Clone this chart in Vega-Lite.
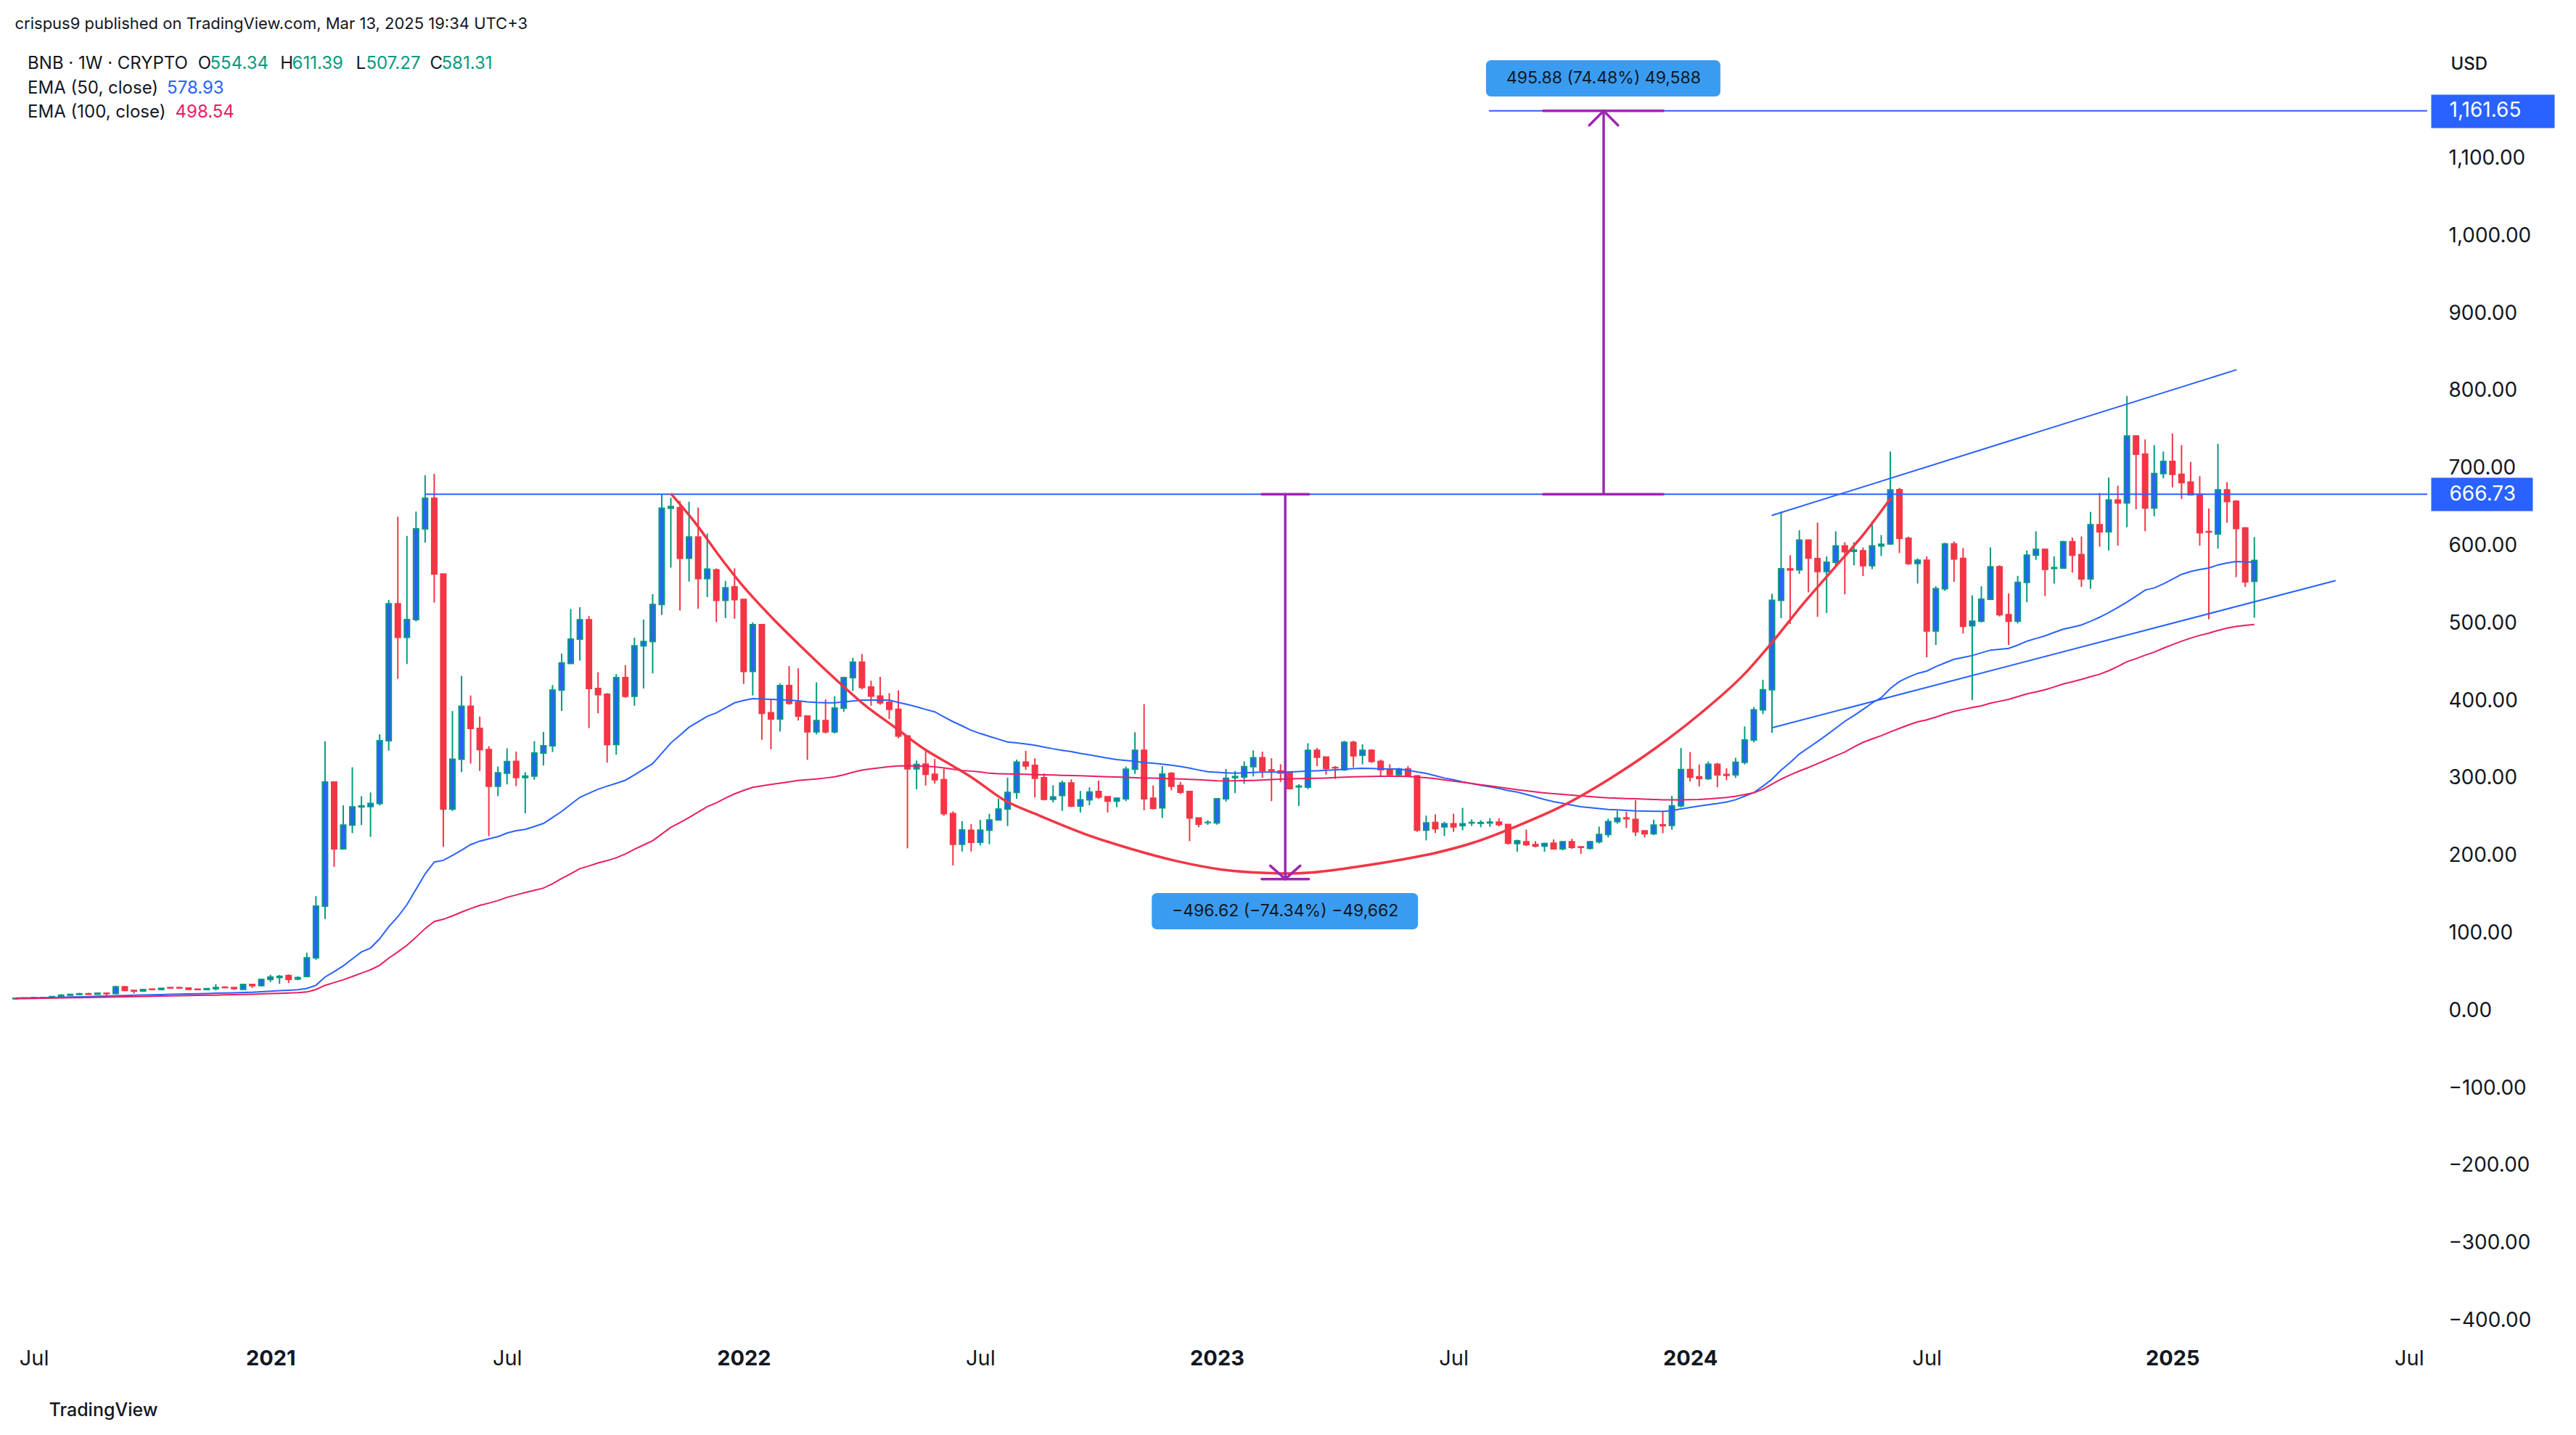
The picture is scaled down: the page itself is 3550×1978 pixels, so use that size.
{
"$schema": "https://vega.github.io/schema/vega-lite/v6.json",
"width": 3331, "height": 1798,
"autosize": {"type": "none"},
"padding": {"left": 19, "top": 52, "right": 200, "bottom": 128},
"background": "#ffffff",
"config": {"font": "Inter", "view": {"stroke": null}, "axis": {"grid": false}},
"datasets": {
"k": [
{"d":"2020-06-22","o":15.5,"h":16.6,"l":15.1,"c":16.2,"e50":16.5,"e100":15.7},
{"d":"2020-06-29","o":16.2,"h":17,"l":15.6,"c":16.4,"e50":16.6,"e100":15.8},
{"d":"2020-07-06","o":16.4,"h":17.4,"l":16,"c":17.1,"e50":16.8,"e100":16},
{"d":"2020-07-13","o":17.1,"h":17.9,"l":16.3,"c":16.8,"e50":17,"e100":16.2},
{"d":"2020-07-20","o":16.8,"h":19,"l":16.6,"c":18.4,"e50":17.2,"e100":16.4},
{"d":"2020-07-27","o":18.4,"h":21.4,"l":18,"c":20.2,"e50":17.5,"e100":16.6},
{"d":"2020-08-03","o":20.2,"h":22.2,"l":19.5,"c":21.1,"e50":17.8,"e100":16.8},
{"d":"2020-08-10","o":21.1,"h":23.1,"l":20.5,"c":22,"e50":18.1,"e100":17},
{"d":"2020-08-17","o":22,"h":23.3,"l":20.9,"c":21.4,"e50":18.4,"e100":17.2},
{"d":"2020-08-24","o":21.4,"h":23.6,"l":21,"c":22.7,"e50":18.7,"e100":17.4},
{"d":"2020-08-31","o":22.7,"h":23.6,"l":19,"c":22.2,"e50":19,"e100":17.6},
{"d":"2020-09-07","o":22.4,"h":32.5,"l":21.5,"c":31,"e50":19.4,"e100":17.8},
{"d":"2020-09-14","o":31,"h":32,"l":25.5,"c":26.3,"e50":19.8,"e100":18.1},
{"d":"2020-09-21","o":26.3,"h":26.8,"l":22.4,"c":25.5,"e50":20.1,"e100":18.3},
{"d":"2020-09-28","o":25.5,"h":28,"l":25,"c":27.5,"e50":20.4,"e100":18.5},
{"d":"2020-10-05","o":28,"h":28.5,"l":26.5,"c":27.5,"e50":20.7,"e100":18.8},
{"d":"2020-10-12","o":27.5,"h":29.5,"l":27,"c":29,"e50":21,"e100":19},
{"d":"2020-10-19","o":30,"h":30.5,"l":28.8,"c":29.5,"e50":21.3,"e100":19.2},
{"d":"2020-10-26","o":30,"h":30.8,"l":28.8,"c":29.5,"e50":21.6,"e100":19.5},
{"d":"2020-11-02","o":29.3,"h":29.5,"l":26.5,"c":27.7,"e50":21.9,"e100":19.7},
{"d":"2020-11-09","o":28,"h":28.6,"l":26.8,"c":27.5,"e50":22.1,"e100":19.9},
{"d":"2020-11-16","o":27.5,"h":29,"l":27,"c":28.6,"e50":22.4,"e100":20.1},
{"d":"2020-11-23","o":28.6,"h":34.4,"l":26.3,"c":30,"e50":22.7,"e100":20.3},
{"d":"2020-11-30","o":30.5,"h":31.5,"l":29.2,"c":30,"e50":23,"e100":20.6},
{"d":"2020-12-07","o":30,"h":30.3,"l":27,"c":28.8,"e50":23.2,"e100":20.8},
{"d":"2020-12-14","o":27.7,"h":35,"l":27.2,"c":34,"e50":23.6,"e100":21.1},
{"d":"2020-12-21","o":34,"h":34.8,"l":29.6,"c":32.5,"e50":24,"e100":21.4},
{"d":"2020-12-28","o":32.5,"h":41.5,"l":31.5,"c":40.6,"e50":24.6,"e100":21.8},
{"d":"2021-01-04","o":40.6,"h":46.5,"l":37,"c":43.5,"e50":25.3,"e100":22.2},
{"d":"2021-01-11","o":43,"h":46.3,"l":34.8,"c":44.5,"e50":26,"e100":22.6},
{"d":"2021-01-18","o":45.5,"h":47,"l":36,"c":40.6,"e50":26.6,"e100":23},
{"d":"2021-01-25","o":41,"h":44.5,"l":39.5,"c":43,"e50":27.2,"e100":23.4},
{"d":"2021-02-01","o":44.4,"h":75,"l":43.5,"c":68.3,"e50":28.8,"e100":24.3},
{"d":"2021-02-08","o":68.3,"h":148,"l":66,"c":135.2,"e50":33,"e100":27.5},
{"d":"2021-02-15","o":135.2,"h":347.7,"l":118.4,"c":295.2,"e50":43.6,"e100":32.9},
{"d":"2021-02-22","o":295.2,"h":296,"l":185.8,"c":209.2,"e50":50.5,"e100":36.5},
{"d":"2021-03-01","o":209.2,"h":265.1,"l":208,"c":239.8,"e50":58,"e100":40},
{"d":"2021-03-08","o":239.8,"h":314.3,"l":229.3,"c":263.2,"e50":67,"e100":44.3},
{"d":"2021-03-15","o":263.2,"h":277,"l":239.8,"c":264.5,"e50":76,"e100":48.6},
{"d":"2021-03-22","o":263.7,"h":281.8,"l":224.5,"c":267.5,"e50":81,"e100":53},
{"d":"2021-03-29","o":267.5,"h":356.8,"l":265.1,"c":348.7,"e50":93,"e100":58.7},
{"d":"2021-04-05","o":348.7,"h":530.2,"l":335.8,"c":525.4,"e50":108.5,"e100":68},
{"d":"2021-04-12","o":525.4,"h":637.7,"l":428.5,"c":482,"e50":121.5,"e100":76},
{"d":"2021-04-19","o":482,"h":612.9,"l":447.6,"c":504.9,"e50":137,"e100":84.5},
{"d":"2021-04-26","o":504.9,"h":644.4,"l":502.5,"c":621.9,"e50":157,"e100":95},
{"d":"2021-05-03","o":621.9,"h":691.2,"l":604.3,"c":661.6,"e50":176.7,"e100":106.2},
{"d":"2021-05-10","o":661.6,"h":693.1,"l":526.9,"c":563.7,"e50":192,"e100":115.2},
{"d":"2021-05-17","o":563.7,"h":563.7,"l":211.6,"c":260.3,"e50":194.2,"e100":118.2},
{"d":"2021-05-24","o":260.3,"h":386.9,"l":258,"c":324.8,"e50":200.6,"e100":122.5},
{"d":"2021-05-31","o":324.8,"h":432.3,"l":308.1,"c":393.1,"e50":207.3,"e100":127.4},
{"d":"2021-06-07","o":393.1,"h":407,"l":319.1,"c":364.5,"e50":214.5,"e100":132},
{"d":"2021-06-14","o":364.5,"h":379.8,"l":309.5,"c":337.2,"e50":219,"e100":136},
{"d":"2021-06-21","o":337.2,"h":341.5,"l":225.5,"c":289.9,"e50":222,"e100":139},
{"d":"2021-06-28","o":289.9,"h":315.3,"l":277,"c":307.1,"e50":224.8,"e100":142.3},
{"d":"2021-07-05","o":306.7,"h":338.8,"l":292.2,"c":321.6,"e50":229.5,"e100":146.5},
{"d":"2021-07-12","o":322,"h":334.6,"l":290,"c":301,"e50":232.5,"e100":149.5},
{"d":"2021-07-19","o":301,"h":308,"l":255,"c":303,"e50":234.1,"e100":152.7},
{"d":"2021-07-26","o":303,"h":348,"l":298.3,"c":332.6,"e50":237.9,"e100":155.5},
{"d":"2021-08-02","o":332.6,"h":360,"l":316.6,"c":342,"e50":241.8,"e100":158.4},
{"d":"2021-08-09","o":342,"h":420.5,"l":334,"c":414,"e50":249.5,"e100":164},
{"d":"2021-08-16","o":414,"h":461,"l":387,"c":449,"e50":257.3,"e100":170.8},
{"d":"2021-08-23","o":448.3,"h":518.6,"l":448,"c":479.6,"e50":266.5,"e100":177},
{"d":"2021-08-30","o":479.6,"h":521,"l":452,"c":504.8,"e50":275.5,"e100":183.5},
{"d":"2021-09-06","o":504.8,"h":509.4,"l":365,"c":416,"e50":280.8,"e100":187},
{"d":"2021-09-13","o":416,"h":437,"l":384,"c":408,"e50":286,"e100":190.9},
{"d":"2021-09-20","o":408.6,"h":410,"l":320.4,"c":343.7,"e50":290,"e100":193.8},
{"d":"2021-09-27","o":343.7,"h":434.6,"l":330.7,"c":430,"e50":293.6,"e100":197.5},
{"d":"2021-10-04","o":430,"h":446,"l":404,"c":406,"e50":297.6,"e100":202.4},
{"d":"2021-10-11","o":406,"h":481.5,"l":393.7,"c":471,"e50":304.5,"e100":208.5},
{"d":"2021-10-18","o":471,"h":505,"l":416,"c":476.6,"e50":311.7,"e100":214},
{"d":"2021-10-25","o":476.6,"h":537.7,"l":435.7,"c":524.3,"e50":319,"e100":219.6},
{"d":"2021-11-01","o":524.3,"h":667.5,"l":511,"c":648.8,"e50":332.3,"e100":228.2},
{"d":"2021-11-08","o":648.8,"h":662,"l":572,"c":650.7,"e50":345.7,"e100":236.8},
{"d":"2021-11-15","o":649.5,"h":658,"l":516.7,"c":584,"e50":355.7,"e100":243},
{"d":"2021-11-22","o":584,"h":657,"l":554,"c":611.4,"e50":366,"e100":249.5},
{"d":"2021-11-29","o":611.4,"h":649.5,"l":519,"c":557.9,"e50":373,"e100":256.5},
{"d":"2021-12-06","o":557.9,"h":616,"l":534,"c":570,"e50":380.1,"e100":263.6},
{"d":"2021-12-13","o":569,"h":571,"l":501.8,"c":529.7,"e50":384.5,"e100":268.5},
{"d":"2021-12-20","o":529.7,"h":554.9,"l":507,"c":546,"e50":391,"e100":274.5},
{"d":"2021-12-27","o":547,"h":571,"l":506,"c":530.8,"e50":397.5,"e100":280},
{"d":"2022-01-03","o":531,"h":531,"l":422,"c":438,"e50":400.6,"e100":284.5},
{"d":"2022-01-10","o":438,"h":501.4,"l":407,"c":498.4,"e50":403,"e100":288.4},
{"d":"2022-01-17","o":498.4,"h":498.4,"l":349.8,"c":384,"e50":402.5,"e100":290.3},
{"d":"2022-01-24","o":384.6,"h":401.4,"l":337.6,"c":376.6,"e50":402,"e100":292.2},
{"d":"2022-01-31","o":376.6,"h":422.4,"l":360.5,"c":419.7,"e50":401.5,"e100":293.8},
{"d":"2022-02-07","o":419.7,"h":445,"l":395,"c":396.8,"e50":401.1,"e100":295.5},
{"d":"2022-02-14","o":398.3,"h":442,"l":374.7,"c":380.4,"e50":400,"e100":297.3},
{"d":"2022-02-21","o":380.4,"h":380.4,"l":323.9,"c":360,"e50":398.8,"e100":298.3},
{"d":"2022-02-28","o":360,"h":424,"l":356.7,"c":374.7,"e50":398,"e100":299.2},
{"d":"2022-03-07","o":374.7,"h":402,"l":358,"c":360,"e50":397.5,"e100":300.5},
{"d":"2022-03-14","o":360,"h":406,"l":358,"c":390.7,"e50":397.6,"e100":302},
{"d":"2022-03-21","o":390.7,"h":431,"l":386,"c":430,"e50":398.7,"e100":304.6},
{"d":"2022-03-28","o":430,"h":455.6,"l":412.8,"c":449.9,"e50":399.9,"e100":307.8},
{"d":"2022-04-04","o":449.9,"h":460.5,"l":415,"c":417.4,"e50":401,"e100":310.6},
{"d":"2022-04-11","o":417.8,"h":426,"l":393.7,"c":406.3,"e50":401.1,"e100":312.3},
{"d":"2022-04-18","o":406.3,"h":431,"l":395,"c":397.6,"e50":401.1,"e100":313.8},
{"d":"2022-04-25","o":398.3,"h":410,"l":376.6,"c":389.2,"e50":401.1,"e100":315.1},
{"d":"2022-05-02","o":389,"h":413.6,"l":351.8,"c":354.8,"e50":398,"e100":316.1},
{"d":"2022-05-09","o":354.8,"h":354.8,"l":209.7,"c":312.4,"e50":395.5,"e100":316.4},
{"d":"2022-05-16","o":312.4,"h":323,"l":286,"c":318,"e50":392.3,"e100":316.1},
{"d":"2022-05-23","o":318.5,"h":336.5,"l":290.7,"c":305.2,"e50":389,"e100":315.7},
{"d":"2022-05-30","o":305.2,"h":325,"l":293.3,"c":298.3,"e50":385.9,"e100":314.9},
{"d":"2022-06-06","o":298.3,"h":312.4,"l":251.7,"c":254.4,"e50":379.5,"e100":313.5},
{"d":"2022-06-13","o":254.4,"h":257.4,"l":187.6,"c":215,"e50":373.2,"e100":311.8},
{"d":"2022-06-20","o":215,"h":244.8,"l":205.5,"c":233.4,"e50":367.8,"e100":310.2},
{"d":"2022-06-27","o":233,"h":241,"l":205.5,"c":217.5,"e50":362,"e100":309.4},
{"d":"2022-07-04","o":217.5,"h":246.6,"l":213.5,"c":233.2,"e50":357.9,"e100":308.3},
{"d":"2022-07-11","o":233.2,"h":254.4,"l":215,"c":246.3,"e50":354.2,"e100":306.6},
{"d":"2022-07-18","o":246.3,"h":273.7,"l":246,"c":260.3,"e50":350.6,"e100":306.1},
{"d":"2022-07-25","o":260.3,"h":300.8,"l":238.5,"c":281.8,"e50":347,"e100":305.8},
{"d":"2022-08-01","o":281.8,"h":324.2,"l":273.7,"c":321,"e50":345.7,"e100":305.5},
{"d":"2022-08-08","o":321,"h":335.4,"l":311.1,"c":316,"e50":344.4,"e100":305.2},
{"d":"2022-08-15","o":316.7,"h":326,"l":275.3,"c":300.2,"e50":342.8,"e100":304.9},
{"d":"2022-08-22","o":300.8,"h":306.4,"l":271.5,"c":273.1,"e50":340.5,"e100":304.6},
{"d":"2022-08-29","o":273,"h":291,"l":269,"c":276,"e50":338.2,"e100":304.4},
{"d":"2022-09-05","o":277.8,"h":297.1,"l":258.1,"c":294,"e50":336.3,"e100":304},
{"d":"2022-09-12","o":294,"h":298.7,"l":262.8,"c":264.3,"e50":334.5,"e100":303.7},
{"d":"2022-09-19","o":264.3,"h":283.7,"l":256,"c":272.2,"e50":332.3,"e100":303.4},
{"d":"2022-09-26","o":272.2,"h":288.4,"l":265.3,"c":282.4,"e50":330.3,"e100":303},
{"d":"2022-10-03","o":283,"h":297.1,"l":273.7,"c":275.9,"e50":328.3,"e100":302.5},
{"d":"2022-10-10","o":276.2,"h":277,"l":256,"c":270.6,"e50":326.1,"e100":302.1},
{"d":"2022-10-17","o":270.6,"h":275.3,"l":262.8,"c":274.3,"e50":324.3,"e100":301.7},
{"d":"2022-10-24","o":273.7,"h":315.2,"l":270.6,"c":311.8,"e50":323.2,"e100":301.3},
{"d":"2022-10-31","o":311.8,"h":359.5,"l":305.8,"c":336.1,"e50":322.1,"e100":300.9},
{"d":"2022-11-07","o":336.1,"h":395.9,"l":258.8,"c":273.7,"e50":320.2,"e100":300.5},
{"d":"2022-11-14","o":274.3,"h":290.9,"l":260,"c":261.2,"e50":319.5,"e100":300.3},
{"d":"2022-11-21","o":262,"h":315.8,"l":248.8,"c":305.5,"e50":318.3,"e100":300},
{"d":"2022-11-28","o":306.5,"h":308,"l":284.6,"c":289.9,"e50":317,"e100":299.7},
{"d":"2022-12-05","o":290.9,"h":295.5,"l":280,"c":282.1,"e50":315.3,"e100":299.3},
{"d":"2022-12-12","o":283,"h":284,"l":219.1,"c":248.8,"e50":313.3,"e100":298.8},
{"d":"2022-12-19","o":248.8,"h":249,"l":236.9,"c":241,"e50":310.8,"e100":298.2},
{"d":"2022-12-26","o":243,"h":246,"l":240,"c":243.2,"e50":308.5,"e100":297.6},
{"d":"2023-01-02","o":242.5,"h":274.3,"l":240.3,"c":273.7,"e50":307.8,"e100":296.9},
{"d":"2023-01-09","o":273.7,"h":312,"l":270,"c":300.2,"e50":307.2,"e100":296.6},
{"d":"2023-01-16","o":301,"h":309.6,"l":281,"c":302.4,"e50":306.8,"e100":296.8},
{"d":"2023-01-23","o":301.7,"h":322,"l":293,"c":315.2,"e50":307.2,"e100":297},
{"d":"2023-01-30","o":315.2,"h":336.1,"l":302.4,"c":326.7,"e50":307.7,"e100":297.4},
{"d":"2023-02-06","o":326.7,"h":334.5,"l":300.8,"c":310,"e50":308,"e100":297.9},
{"d":"2023-02-13","o":311,"h":326,"l":270.6,"c":310,"e50":308,"e100":298.4},
{"d":"2023-02-20","o":309.6,"h":318.3,"l":295.5,"c":307,"e50":308,"e100":298.9},
{"d":"2023-02-27","o":308,"h":308.5,"l":285.6,"c":286.8,"e50":308.4,"e100":299.4},
{"d":"2023-03-06","o":289,"h":292.4,"l":264.4,"c":290,"e50":308.9,"e100":299.7},
{"d":"2023-03-13","o":288.7,"h":345.4,"l":286.2,"c":336.1,"e50":309.4,"e100":300},
{"d":"2023-03-20","o":336.1,"h":339.2,"l":315.8,"c":327.3,"e50":309.8,"e100":300.2},
{"d":"2023-03-27","o":327.6,"h":328,"l":304.9,"c":312.7,"e50":310.4,"e100":300.5},
{"d":"2023-04-03","o":314,"h":315.8,"l":299.3,"c":313.6,"e50":311,"e100":301},
{"d":"2023-04-10","o":311.1,"h":348.5,"l":309.6,"c":346.4,"e50":311.8,"e100":301.5},
{"d":"2023-04-17","o":346.4,"h":348.5,"l":314.2,"c":329.2,"e50":312.5,"e100":302},
{"d":"2023-04-24","o":329.8,"h":343.9,"l":318,"c":336.1,"e50":313,"e100":302.3},
{"d":"2023-05-01","o":336.1,"h":337.6,"l":319.9,"c":322,"e50":312.7,"e100":302.5},
{"d":"2023-05-08","o":322,"h":324.2,"l":301.7,"c":311.1,"e50":312.3,"e100":302.7},
{"d":"2023-05-15","o":311.1,"h":318.3,"l":302.4,"c":304.9,"e50":312.1,"e100":302.7},
{"d":"2023-05-22","o":304.9,"h":313.6,"l":301.7,"c":312.1,"e50":312.1,"e100":302.7},
{"d":"2023-05-29","o":312.1,"h":315.8,"l":302,"c":303.3,"e50":310.5,"e100":302.5},
{"d":"2023-06-05","o":303.3,"h":304,"l":231,"c":233.2,"e50":308.3,"e100":301.5},
{"d":"2023-06-12","o":233.2,"h":251.9,"l":220,"c":242.5,"e50":306.5,"e100":300.8},
{"d":"2023-06-19","o":243,"h":253.5,"l":229.5,"c":235,"e50":303.5,"e100":299.6},
{"d":"2023-06-26","o":237.5,"h":244,"l":225.6,"c":241.5,"e50":300.5,"e100":298},
{"d":"2023-07-03","o":241.5,"h":254.5,"l":231,"c":237.5,"e50":298.2,"e100":296.5},
{"d":"2023-07-10","o":239,"h":262,"l":233,"c":241.5,"e50":295.5,"e100":295},
{"d":"2023-07-17","o":242.5,"h":247,"l":238.6,"c":243,"e50":293.3,"e100":293.3},
{"d":"2023-07-24","o":242,"h":246,"l":237,"c":243,"e50":291,"e100":291.8},
{"d":"2023-07-31","o":242.5,"h":248.6,"l":237.5,"c":243.5,"e50":289.2,"e100":290.3},
{"d":"2023-08-07","o":243.5,"h":248.6,"l":238,"c":240.4,"e50":287,"e100":288.8},
{"d":"2023-08-14","o":240.4,"h":241,"l":214.5,"c":216.4,"e50":284.3,"e100":287.1},
{"d":"2023-08-21","o":216,"h":221,"l":205.3,"c":219.3,"e50":282.3,"e100":285.5},
{"d":"2023-08-28","o":218.2,"h":233.8,"l":212.7,"c":214.5,"e50":279.3,"e100":284},
{"d":"2023-09-04","o":214.5,"h":219,"l":211,"c":212.7,"e50":276,"e100":282.6},
{"d":"2023-09-11","o":212.7,"h":217,"l":205.3,"c":216,"e50":272.7,"e100":281.3},
{"d":"2023-09-18","o":216.4,"h":221.2,"l":208.3,"c":209,"e50":270,"e100":280.2},
{"d":"2023-09-25","o":209,"h":219.3,"l":207,"c":218.2,"e50":267.8,"e100":279.3},
{"d":"2023-10-02","o":218.2,"h":222,"l":209,"c":210.9,"e50":265.6,"e100":278.4},
{"d":"2023-10-09","o":211.6,"h":212.5,"l":202.7,"c":211,"e50":263.4,"e100":277.5},
{"d":"2023-10-16","o":209.7,"h":219.3,"l":208,"c":218.2,"e50":262.2,"e100":276.5},
{"d":"2023-10-23","o":218.2,"h":237.8,"l":216,"c":227.5,"e50":261,"e100":275.6},
{"d":"2023-10-30","o":227.5,"h":247.9,"l":223.8,"c":244.1,"e50":260,"e100":274.8},
{"d":"2023-11-06","o":244.1,"h":258.2,"l":241.5,"c":248.6,"e50":259.4,"e100":274.4},
{"d":"2023-11-13","o":249,"h":257,"l":236,"c":248,"e50":258.8,"e100":274},
{"d":"2023-11-20","o":247.1,"h":271.9,"l":225.6,"c":231.2,"e50":258.1,"e100":273.6},
{"d":"2023-11-27","o":232.3,"h":233,"l":223.8,"c":228.6,"e50":257.9,"e100":273.2},
{"d":"2023-12-04","o":228.6,"h":246.7,"l":226.7,"c":239.7,"e50":257.6,"e100":272.8},
{"d":"2023-12-11","o":240,"h":258.2,"l":229.3,"c":239,"e50":257.4,"e100":272.4},
{"d":"2023-12-18","o":239.3,"h":277.4,"l":233.8,"c":264.5,"e50":258.5,"e100":272.2},
{"d":"2023-12-25","o":264.5,"h":339.2,"l":262.6,"c":311.5,"e50":260.5,"e100":272.4},
{"d":"2024-01-01","o":311.5,"h":334,"l":295.9,"c":301.5,"e50":262.4,"e100":272.6},
{"d":"2024-01-08","o":302,"h":318,"l":289.6,"c":300,"e50":264.4,"e100":272.8},
{"d":"2024-01-15","o":299.6,"h":321.8,"l":298,"c":318.1,"e50":266,"e100":273.5},
{"d":"2024-01-22","o":318.1,"h":320,"l":288.5,"c":304.5,"e50":267.7,"e100":274.3},
{"d":"2024-01-29","o":305,"h":313,"l":297.8,"c":304,"e50":269.5,"e100":275.3},
{"d":"2024-02-05","o":304.5,"h":326.6,"l":300.7,"c":320.7,"e50":272.4,"e100":277},
{"d":"2024-02-12","o":320.7,"h":367,"l":318,"c":349.6,"e50":277,"e100":279},
{"d":"2024-02-19","o":349.6,"h":392.1,"l":346.6,"c":388.4,"e50":281.7,"e100":281.5},
{"d":"2024-02-26","o":388.4,"h":427.2,"l":382.9,"c":414.3,"e50":290,"e100":286},
{"d":"2024-03-04","o":414.3,"h":538.2,"l":358.8,"c":529.7,"e50":299,"e100":292.5},
{"d":"2024-03-11","o":529.7,"h":644.4,"l":506.8,"c":570.4,"e50":310.7,"e100":299},
{"d":"2024-03-18","o":570.4,"h":588,"l":499.4,"c":569,"e50":320.6,"e100":304.5},
{"d":"2024-03-25","o":569,"h":620.3,"l":564,"c":607.4,"e50":331.4,"e100":309.5},
{"d":"2024-04-01","o":607.4,"h":608,"l":540,"c":584.4,"e50":339.5,"e100":314},
{"d":"2024-04-08","o":583.7,"h":630,"l":508.6,"c":567,"e50":347.5,"e100":319},
{"d":"2024-04-15","o":567,"h":586.3,"l":513.4,"c":578.9,"e50":356,"e100":324},
{"d":"2024-04-22","o":578.9,"h":618.9,"l":575,"c":600,"e50":364.7,"e100":329},
{"d":"2024-04-29","o":600,"h":604.8,"l":537.5,"c":592.6,"e50":373.7,"e100":334},
{"d":"2024-05-06","o":593,"h":604.8,"l":575,"c":594.6,"e50":381,"e100":340.5},
{"d":"2024-05-13","o":593.7,"h":598,"l":561.1,"c":574.5,"e50":389,"e100":346.5},
{"d":"2024-05-20","o":574.5,"h":631.8,"l":570,"c":600,"e50":397.3,"e100":351},
{"d":"2024-05-27","o":600,"h":614,"l":587,"c":602,"e50":404.2,"e100":355},
{"d":"2024-06-03","o":602.5,"h":721.8,"l":601.5,"c":672.3,"e50":416,"e100":360},
{"d":"2024-06-10","o":672.6,"h":675,"l":590.8,"c":609.8,"e50":425,"e100":364.5},
{"d":"2024-06-17","o":609.8,"h":612,"l":575.4,"c":577.4,"e50":430.6,"e100":369},
{"d":"2024-06-24","o":577.4,"h":584,"l":551.4,"c":581.4,"e50":435.5,"e100":373},
{"d":"2024-07-01","o":581.4,"h":586.5,"l":456.2,"c":490.2,"e50":438.5,"e100":375.5},
{"d":"2024-07-08","o":490.2,"h":548,"l":472.2,"c":544.7,"e50":444.3,"e100":379},
{"d":"2024-07-15","o":544.7,"h":604,"l":542,"c":602.5,"e50":449,"e100":383},
{"d":"2024-07-22","o":602.5,"h":605.8,"l":553.7,"c":583.1,"e50":453.7,"e100":386.5},
{"d":"2024-07-29","o":583.8,"h":597.2,"l":486.9,"c":496.2,"e50":456,"e100":389},
{"d":"2024-08-05","o":496.9,"h":536.3,"l":401,"c":502.9,"e50":458.5,"e100":391.5},
{"d":"2024-08-12","o":502.9,"h":548,"l":501.3,"c":531.3,"e50":462,"e100":393.5},
{"d":"2024-08-19","o":531.3,"h":598.1,"l":530,"c":573.1,"e50":465.5,"e100":397},
{"d":"2024-08-26","o":573.1,"h":575,"l":509,"c":511.3,"e50":466.5,"e100":399.5},
{"d":"2024-09-02","o":511.3,"h":538.7,"l":472.2,"c":502.9,"e50":467.7,"e100":402},
{"d":"2024-09-09","o":502.9,"h":561.4,"l":500,"c":553,"e50":472,"e100":405.5},
{"d":"2024-09-16","o":553,"h":594.1,"l":527.3,"c":588.1,"e50":477,"e100":409},
{"d":"2024-09-23","o":588.1,"h":618.9,"l":582,"c":595.5,"e50":480.5,"e100":411.5},
{"d":"2024-09-30","o":595.5,"h":596.5,"l":535.3,"c":569.8,"e50":483.9,"e100":414.4},
{"d":"2024-10-07","o":571,"h":586.5,"l":551.4,"c":572,"e50":488.3,"e100":418},
{"d":"2024-10-14","o":571.4,"h":606.5,"l":570.4,"c":605.5,"e50":492.5,"e100":421.8},
{"d":"2024-10-21","o":605.5,"h":610.8,"l":565.7,"c":588.1,"e50":495.2,"e100":424.7},
{"d":"2024-10-28","o":588.8,"h":612.2,"l":547,"c":557.4,"e50":498,"e100":427.7},
{"d":"2024-11-04","o":557.4,"h":643.9,"l":544.7,"c":627.5,"e50":502.8,"e100":431.3},
{"d":"2024-11-11","o":627.5,"h":668.3,"l":599.1,"c":618.2,"e50":508,"e100":434.4},
{"d":"2024-11-18","o":618.2,"h":688.3,"l":594.1,"c":659.3,"e50":514,"e100":439},
{"d":"2024-11-25","o":659.3,"h":677.7,"l":600.5,"c":655.6,"e50":520.5,"e100":444.5},
{"d":"2024-12-02","o":655.6,"h":793.6,"l":624.2,"c":741.8,"e50":527.5,"e100":450.5},
{"d":"2024-12-09","o":741.8,"h":742.8,"l":647.3,"c":718.4,"e50":535,"e100":454.5},
{"d":"2024-12-16","o":718.4,"h":737.5,"l":618.9,"c":649,"e50":543,"e100":459},
{"d":"2024-12-23","o":649,"h":730.1,"l":638.3,"c":693.4,"e50":545.8,"e100":463},
{"d":"2024-12-30","o":693.4,"h":721.8,"l":687.3,"c":709.1,"e50":551,"e100":468},
{"d":"2025-01-06","o":709.1,"h":745.1,"l":675.7,"c":692.4,"e50":557,"e100":472.5},
{"d":"2025-01-13","o":692.4,"h":730.1,"l":660.6,"c":681.7,"e50":563.3,"e100":477},
{"d":"2025-01-20","o":682.3,"h":708.4,"l":665,"c":666,"e50":567,"e100":481},
{"d":"2025-01-27","o":666.6,"h":690,"l":600.5,"c":617.2,"e50":569.5,"e100":484.5},
{"d":"2025-02-03","o":618.5,"h":648.3,"l":505.3,"c":618,"e50":571.5,"e100":487.5},
{"d":"2025-02-10","o":615.5,"h":731.8,"l":596.5,"c":672.3,"e50":575.5,"e100":491},
{"d":"2025-02-17","o":672.3,"h":682.3,"l":629.9,"c":657.3,"e50":578,"e100":494},
{"d":"2025-02-24","o":657.6,"h":659,"l":559.7,"c":622.5,"e50":579.8,"e100":496},
{"d":"2025-03-03","o":623.2,"h":624.2,"l":547,"c":553.7,"e50":579.5,"e100":497.5},
{"d":"2025-03-10","o":554.34,"h":611.39,"l":507.27,"c":581.31,"e50":578.93,"e100":498.54}
],
"blue": [
{"k":"h1161","d":"2023-07-30T07:00Z","d2":"2025-07-21T00:00Z","p":1161.65,"p2":1161.65},
{"k":"h666","d":"2021-05-03T00:00Z","d2":"2025-07-21T00:00Z","p":666.73,"p2":666.73},
{"k":"up","d":"2024-03-03T19:00Z","d2":"2025-02-24T07:00Z","p":639.3,"p2":827.4},
{"k":"lo","d":"2024-03-04T07:00Z","d2":"2025-05-11T14:00Z","p":365.4,"p2":555.3}
],
"cup": [
{"d":"2021-11-08T00:00Z","p":667.5},
{"d":"2021-11-26T10:00Z","p":630.5},
{"d":"2021-12-17T05:00Z","p":582.7},
{"d":"2022-01-02T10:00Z","p":548.3},
{"d":"2022-01-25T10:00Z","p":506.3},
{"d":"2022-02-17T12:00Z","p":468},
{"d":"2022-03-13T12:00Z","p":429.8},
{"d":"2022-04-05T14:00Z","p":395.4},
{"d":"2022-04-28T17:00Z","p":366.7},
{"d":"2022-05-21T19:00Z","p":338},
{"d":"2022-06-13T22:00Z","p":315},
{"d":"2022-06-28T12:00Z","p":300},
{"d":"2022-07-22T22:00Z","p":271.5},
{"d":"2022-08-19T14:00Z","p":251.2},
{"d":"2022-09-23T05:00Z","p":227.8},
{"d":"2022-10-27T19:00Z","p":209.1},
{"d":"2022-12-01T10:00Z","p":193.5},
{"d":"2023-01-05T00:00Z","p":182.5},
{"d":"2023-02-08T14:00Z","p":177.9},
{"d":"2023-02-23T14:00Z","p":177.2},
{"d":"2023-03-15T07:00Z","p":178.5},
{"d":"2023-04-18T22:00Z","p":185.7},
{"d":"2023-05-23T12:00Z","p":195},
{"d":"2023-06-19T14:00Z","p":204},
{"d":"2023-07-18T17:00Z","p":217.3},
{"d":"2023-08-22T07:00Z","p":239.5},
{"d":"2023-09-25T22:00Z","p":265.4},
{"d":"2023-10-30T12:00Z","p":298.8},
{"d":"2023-12-04T05:00Z","p":337.6},
{"d":"2024-01-07T17:00Z","p":382.1},
{"d":"2024-02-11T07:00Z","p":433.9},
{"d":"2024-03-05T10:00Z","p":478.3},
{"d":"2024-03-28T12:00Z","p":526.4},
{"d":"2024-04-20T14:00Z","p":570.9},
{"d":"2024-05-13T14:00Z","p":615.3},
{"d":"2024-06-03T12:00Z","p":662}
],
"measure": [
{"d":"2023-10-26T12:00Z","d2":"2023-10-26T12:00Z","p":666.73,"p2":1161.65},
{"d":"2023-09-10T00:00Z","d2":"2023-12-11T10:00Z","p":1161.65,"p2":1161.65},
{"d":"2023-09-10T00:00Z","d2":"2023-12-11T10:00Z","p":666.73,"p2":666.73},
{"d":"2023-10-15T10:00Z","d2":"2023-10-26T12:00Z","p":1142.9,"p2":1161.65},
{"d":"2023-11-06T14:00Z","d2":"2023-10-26T12:00Z","p":1142.9,"p2":1161.65},
{"d":"2023-02-23T14:00Z","d2":"2023-02-23T14:00Z","p":666.73,"p2":170.11},
{"d":"2023-02-05T12:00Z","d2":"2023-03-13T17:00Z","p":666.73,"p2":666.73},
{"d":"2023-02-05T12:00Z","d2":"2023-03-13T17:00Z","p":170.11,"p2":170.11},
{"d":"2023-02-12T02:00Z","d2":"2023-02-23T14:00Z","p":187.2,"p2":170.11},
{"d":"2023-03-07T02:00Z","d2":"2023-02-23T14:00Z","p":187.2,"p2":170.11}
],
"labels": [
{"d":"2023-07-28T00:00Z","d2":"2024-01-24T07:00Z","y1":1180,"y2":1226.9,"dc":"2023-10-26T12:00Z","yc":1203.5,"t":"495.88 (74.48%) 49,588"},
{"d":"2022-11-12T22:00Z","d2":"2023-06-05T17:00Z","y1":105.2,"y2":152,"dc":"2023-02-23T14:00Z","yc":128.6,"t":"−496.62 (−74.34%) −49,662"}
]
},
"resolve": {"axis": {"x": "independent", "y": "independent"}},
"layer": [
{
"data": {"name": "k"},
"mark": {"type": "rule", "strokeWidth": 2},
"encoding": {
"x": {"field": "d", "type": "temporal", "scale": {"type": "utc", "domain": [{"year": 2020, "month": 6, "date": 23, "hours": 9, "minutes": 20, "utc": true}, {"year": 2025, "month": 7, "date": 21, "utc": true}], "nice": false},
"axis": {"orient": "top", "labels": false, "ticks": false, "domain": false, "grid": false, "title": "611.39", "titleX": 383, "titleY": 42.3, "titleAlign": "left", "titleBaseline": "alphabetic", "titleFontSize": 24, "titleFontWeight": 400, "titleColor": "#089981", "zindex": 2}},
"y": {"field": "l", "type": "quantitative", "scale": {"domain": [-427.6, 1255.9], "nice": false, "zero": false},
"axis": {"orient": "left", "labels": false, "ticks": false, "domain": false, "grid": false, "title": ["BNB · 1W · CRYPTO", "EMA (50, close)", "EMA (100, close)"], "titleAngle": 0, "titleX": 18.6, "titleY": 42.3, "titleAlign": "left", "titleBaseline": "alphabetic", "titleFontSize": 24, "titleFontWeight": 400, "titleColor": "#131722", "titleLineHeight": 33.8, "zindex": 2}},
"y2": {"field": "h"},
"color": {"condition": {"test": "datum.c >= datum.o", "value": "#089981"}, "value": "#f23645"}
}
},
{
"data": {"name": "k"},
"mark": {"type": "bar", "size": 7, "strokeWidth": 2},
"encoding": {
"x": {"field": "d", "type": "temporal", "scale": {"type": "utc", "domain": [{"year": 2020, "month": 6, "date": 23, "hours": 9, "minutes": 20, "utc": true}, {"year": 2025, "month": 7, "date": 21, "utc": true}], "nice": false},
"axis": {"orient": "bottom", "values": [{"year": 2020, "month": 7, "date": 6, "utc": true}, {"year": 2021, "month": 1, "date": 4, "utc": true}, {"year": 2021, "month": 7, "date": 5, "utc": true}, {"year": 2022, "month": 1, "date": 3, "utc": true}, {"year": 2022, "month": 7, "date": 4, "utc": true}, {"year": 2023, "month": 1, "date": 2, "utc": true}, {"year": 2023, "month": 7, "date": 3, "utc": true}, {"year": 2024, "month": 1, "date": 1, "utc": true}, {"year": 2024, "month": 7, "date": 1, "utc": true}, {"year": 2025, "month": 1, "date": 6, "utc": true}, {"year": 2025, "month": 7, "date": 7, "utc": true}],
"labelExpr": "utcmonth(datum.value) == 0 ? utcFormat(datum.value, '%Y') : utcFormat(datum.value, '%b')",
"labelFontWeight": {"condition": {"test": "utcmonth(datum.value) == 0", "value": 700}, "value": 400},
"labelFontSize": 29, "labelColor": "#131722", "ticks": false, "domain": false, "grid": false, "labelPadding": 22, "labelBaseline": "middle", "labelAlign": "center", "labelOverlap": false, "labelFlush": false, "labelBound": false,
"title": "TradingView", "titleX": 48, "titleY": 101, "titleAlign": "left", "titleBaseline": "alphabetic", "titleFontSize": 25, "titleFontWeight": 500, "titleColor": "#131722"}},
"y": {"field": "o", "type": "quantitative", "scale": {"domain": [-427.6, 1255.9], "nice": false, "zero": false},
"axis": {"orient": "right", "values": [-400, -300, -200, -100, 0, 100, 200, 300, 400, 500, 600, 700, 800, 900, 1000, 1100], "format": ",.2f", "labelFontSize": 28, "labelColor": "#131722", "labelPadding": 24, "labelAlign": "left", "labelBaseline": "middle", "ticks": false, "domain": false, "grid": false, "labelOverlap": false, "labelBound": false, "labelFlush": false,
"title": "USD", "titleAngle": 0, "titleX": 27, "titleY": 36, "titleAlign": "left", "titleBaseline": "middle", "titleFontSize": 24, "titleFontWeight": 500, "titleColor": "#131722"}},
"y2": {"field": "c"},
"fill": {"condition": {"test": "datum.c >= datum.o", "value": "#2962ff"}, "value": "#f23645"},
"stroke": {"condition": {"test": "datum.c >= datum.o", "value": "#089981"}, "value": "#f23645"}
}
},
{
"data": {"name": "k"},
"mark": {"type": "line", "strokeWidth": 2, "color": "#2962ff"},
"encoding": {
"x": {"field": "d", "type": "temporal", "scale": {"type": "utc", "domain": [{"year": 2020, "month": 6, "date": 23, "hours": 9, "minutes": 20, "utc": true}, {"year": 2025, "month": 7, "date": 21, "utc": true}], "nice": false},
"axis": {"orient": "top", "labels": false, "ticks": false, "domain": false, "grid": false, "title": "507.27", "titleX": 485, "titleY": 42.3, "titleAlign": "left", "titleBaseline": "alphabetic", "titleFontSize": 24, "titleFontWeight": 400, "titleColor": "#089981", "zindex": 2}},
"y": {"field": "e50", "type": "quantitative", "scale": {"domain": [-427.6, 1255.9], "nice": false, "zero": false},
"axis": {"orient": "left", "labels": false, "ticks": false, "domain": false, "grid": false, "title": "578.93", "titleAngle": 0, "titleX": 210.6, "titleY": 76.3, "titleAlign": "left", "titleBaseline": "alphabetic", "titleFontSize": 24, "titleFontWeight": 400, "titleColor": "#2962ff", "zindex": 2}}
}
},
{
"data": {"name": "k"},
"mark": {"type": "line", "strokeWidth": 2, "color": "#e91e63"},
"encoding": {
"x": {"field": "d", "type": "temporal", "scale": {"type": "utc", "domain": [{"year": 2020, "month": 6, "date": 23, "hours": 9, "minutes": 20, "utc": true}, {"year": 2025, "month": 7, "date": 21, "utc": true}], "nice": false},
"axis": {"orient": "top", "labels": false, "ticks": false, "domain": false, "grid": false, "title": "581.31", "titleX": 589, "titleY": 42.3, "titleAlign": "left", "titleBaseline": "alphabetic", "titleFontSize": 24, "titleFontWeight": 400, "titleColor": "#089981", "zindex": 2}},
"y": {"field": "e100", "type": "quantitative", "scale": {"domain": [-427.6, 1255.9], "nice": false, "zero": false},
"axis": {"orient": "left", "labels": false, "ticks": false, "domain": false, "grid": false, "title": "498.54", "titleAngle": 0, "titleX": 222, "titleY": 109.7, "titleAlign": "left", "titleBaseline": "alphabetic", "titleFontSize": 24, "titleFontWeight": 400, "titleColor": "#e91e63", "zindex": 2}}
}
},
{
"mark": {"type": "rule", "strokeWidth": 2, "color": "#2962ff", "strokeDash": [2.5, 4.5]},
"encoding": {
"y": {"datum": 581.31, "type": "quantitative", "scale": {"domain": [-427.6, 1255.9], "nice": false, "zero": false},
"axis": {"orient": "left", "labels": false, "ticks": false, "domain": false, "grid": false, "title": "554.34", "titleAngle": 0, "titleX": 270, "titleY": 42.3, "titleAlign": "left", "titleBaseline": "alphabetic", "titleFontSize": 24, "titleFontWeight": 400, "titleColor": "#089981", "zindex": 2}}
}
},
{
"data": {"name": "blue"},
"transform": [{"filter": "datum.k == 'h1161'"}],
"mark": {"type": "rule", "strokeWidth": 2, "color": "#2962ff"},
"encoding": {
"x": {"field": "d", "type": "temporal", "scale": {"type": "utc", "domain": [{"year": 2020, "month": 6, "date": 23, "hours": 9, "minutes": 20, "utc": true}, {"year": 2025, "month": 7, "date": 21, "utc": true}], "nice": false}, "axis": null},
"x2": {"field": "d2"},
"y": {"field": "p", "type": "quantitative", "scale": {"domain": [-427.6, 1255.9], "nice": false, "zero": false},
"axis": {"orient": "right", "values": [1161.65], "format": ",.2f", "ticks": true, "tickSize": 170, "tickWidth": 46, "tickColor": "#2962ff", "tickCap": "butt", "labelColor": "#ffffff", "labelFontSize": 28, "labelPadding": -145, "labelAlign": "left", "labelBaseline": "middle", "domain": false, "grid": false, "title": null, "labelBound": false, "labelFlush": false, "zindex": 3}},
"y2": {"field": "p2"}
}
},
{
"data": {"name": "blue"},
"transform": [{"filter": "datum.k == 'h666'"}],
"mark": {"type": "rule", "strokeWidth": 2, "color": "#2962ff"},
"encoding": {
"x": {"field": "d", "type": "temporal", "scale": {"type": "utc", "domain": [{"year": 2020, "month": 6, "date": 23, "hours": 9, "minutes": 20, "utc": true}, {"year": 2025, "month": 7, "date": 21, "utc": true}], "nice": false}, "axis": null},
"x2": {"field": "d2"},
"y": {"field": "p", "type": "quantitative", "scale": {"domain": [-427.6, 1255.9], "nice": false, "zero": false},
"axis": {"orient": "right", "values": [666.73], "format": ",.2f", "ticks": true, "tickSize": 140, "tickWidth": 46, "tickColor": "#2962ff", "tickCap": "butt", "labelColor": "#ffffff", "labelFontSize": 28, "labelPadding": -115, "labelAlign": "left", "labelBaseline": "middle", "domain": false, "grid": false, "title": null, "labelBound": false, "labelFlush": false, "zindex": 3}},
"y2": {"field": "p2"}
}
},
{
"data": {"name": "blue"},
"transform": [{"filter": "datum.k == 'up' || datum.k == 'lo'"}],
"mark": {"type": "rule", "strokeWidth": 2, "color": "#2962ff"},
"encoding": {
"x": {"field": "d", "type": "temporal", "scale": {"type": "utc", "domain": [{"year": 2020, "month": 6, "date": 23, "hours": 9, "minutes": 20, "utc": true}, {"year": 2025, "month": 7, "date": 21, "utc": true}], "nice": false}, "axis": null},
"x2": {"field": "d2"},
"y": {"field": "p", "type": "quantitative", "scale": {"domain": [-427.6, 1255.9], "nice": false, "zero": false},
"axis": {"orient": "left", "labels": false, "ticks": false, "domain": false, "grid": false, "title": "O", "titleAngle": 0, "titleX": 253.3, "titleY": 42.3, "titleAlign": "left", "titleBaseline": "alphabetic", "titleFontSize": 24, "titleFontWeight": 400, "titleColor": "#131722", "zindex": 2}},
"y2": {"field": "p2"}
}
},
{
"data": {"name": "cup"},
"mark": {"type": "line", "strokeWidth": 3.5, "color": "#f23645", "interpolate": "monotone"},
"encoding": {
"x": {"field": "d", "type": "temporal", "scale": {"type": "utc", "domain": [{"year": 2020, "month": 6, "date": 23, "hours": 9, "minutes": 20, "utc": true}, {"year": 2025, "month": 7, "date": 21, "utc": true}], "nice": false}, "axis": null},
"y": {"field": "p", "type": "quantitative", "scale": {"domain": [-427.6, 1255.9], "nice": false, "zero": false},
"axis": {"orient": "left", "labels": false, "ticks": false, "domain": false, "grid": false, "title": "crispus9 published on TradingView.com, Mar 13, 2025 19:34 UTC+3", "titleAngle": 0, "titleX": 1, "titleY": -12.6, "titleAlign": "left", "titleBaseline": "alphabetic", "titleFontSize": 22, "titleFontWeight": 400, "titleColor": "#131722", "zindex": 2}}
}
},
{
"data": {"name": "measure"},
"mark": {"type": "rule", "strokeWidth": 3.5, "color": "#9c27b0", "strokeCap": "round"},
"encoding": {
"x": {"field": "d", "type": "temporal", "scale": {"type": "utc", "domain": [{"year": 2020, "month": 6, "date": 23, "hours": 9, "minutes": 20, "utc": true}, {"year": 2025, "month": 7, "date": 21, "utc": true}], "nice": false}, "axis": null},
"x2": {"field": "d2"},
"y": {"field": "p", "type": "quantitative", "scale": {"domain": [-427.6, 1255.9], "nice": false, "zero": false},
"axis": {"orient": "left", "labels": false, "ticks": false, "domain": false, "grid": false, "title": "H", "titleAngle": 0, "titleX": 366.7, "titleY": 42.3, "titleAlign": "left", "titleBaseline": "alphabetic", "titleFontSize": 24, "titleFontWeight": 400, "titleColor": "#131722", "zindex": 2}},
"y2": {"field": "p2"}
}
},
{
"data": {"name": "labels"},
"mark": {"type": "rect", "cornerRadius": 7, "color": "#3a9cf0"},
"encoding": {
"x": {"field": "d", "type": "temporal", "scale": {"type": "utc", "domain": [{"year": 2020, "month": 6, "date": 23, "hours": 9, "minutes": 20, "utc": true}, {"year": 2025, "month": 7, "date": 21, "utc": true}], "nice": false}, "axis": null},
"x2": {"field": "d2"},
"y": {"field": "y1", "type": "quantitative", "scale": {"domain": [-427.6, 1255.9], "nice": false, "zero": false},
"axis": {"orient": "left", "labels": false, "ticks": false, "domain": false, "grid": false, "title": "L", "titleAngle": 0, "titleX": 471, "titleY": 42.3, "titleAlign": "left", "titleBaseline": "alphabetic", "titleFontSize": 24, "titleFontWeight": 400, "titleColor": "#131722", "zindex": 2}},
"y2": {"field": "y2"}
}
},
{
"data": {"name": "labels"},
"mark": {"type": "text", "fontSize": 23, "color": "#131722", "align": "center", "baseline": "middle"},
"encoding": {
"x": {"field": "dc", "type": "temporal", "scale": {"type": "utc", "domain": [{"year": 2020, "month": 6, "date": 23, "hours": 9, "minutes": 20, "utc": true}, {"year": 2025, "month": 7, "date": 21, "utc": true}], "nice": false}, "axis": null},
"y": {"field": "yc", "type": "quantitative", "scale": {"domain": [-427.6, 1255.9], "nice": false, "zero": false},
"axis": {"orient": "left", "labels": false, "ticks": false, "domain": false, "grid": false, "title": "C", "titleAngle": 0, "titleX": 573, "titleY": 42.3, "titleAlign": "left", "titleBaseline": "alphabetic", "titleFontSize": 24, "titleFontWeight": 400, "titleColor": "#131722", "zindex": 2}},
"text": {"field": "t"}
}
}
]
}
